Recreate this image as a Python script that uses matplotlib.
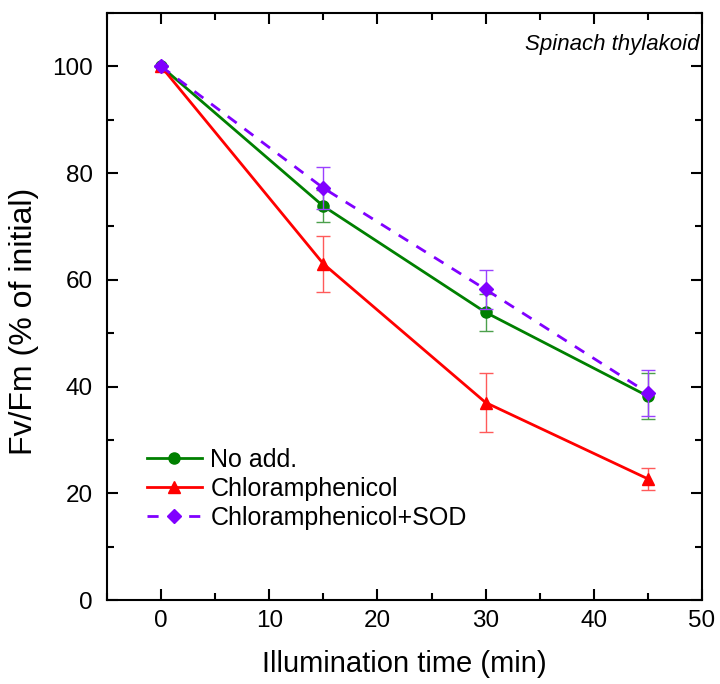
import matplotlib
matplotlib.use("Agg")
from matplotlib import pyplot as plt
from matplotlib.ticker import MultipleLocator

plt.rcParams['font.family'] = ['Liberation Sans', 'DejaVu Sans']

# data
t = [0, 15, 30, 45]
no_add = [100, 73.8, 53.9, 38.2]
no_add_err = [0, 3.0, 3.4, 4.3]
chl = [100, 63.0, 37.0, 22.7]
chl_err = [0, 5.2, 5.6, 2.1]
chl_sod = [100, 77.2, 58.2, 38.8]
chl_sod_err = [0, 4.0, 3.7, 4.3]
labels = ["No add.", "Chloramphenicol", "Chloramphenicol+SOD"]

fig = plt.figure(figsize=(7.2, 6.84), dpi=100)
ax = fig.add_axes([0.1486, 0.1228, 0.8264, 0.8582])

green = "#008000"
red = "#ff0000"
purple = "#8000ff"

ax.errorbar(t, no_add, yerr=no_add_err, color=green, marker="o", markersize=8,
            linewidth=2, capsize=5, elinewidth=1, ecolor="#4ca04c", label=labels[0], zorder=3)
ax.errorbar(t, chl, yerr=chl_err, color=red, marker="^", markersize=9,
            linewidth=2, capsize=5, elinewidth=1, ecolor="#ff5a5a", label=labels[1], zorder=3)
ax.errorbar(t, chl_sod, yerr=chl_sod_err, color=purple, marker="D", markersize=7,
            linewidth=2, linestyle=(0, (4, 3.5)), capsize=5, elinewidth=1, ecolor="#9a40ff",
            label=labels[2], zorder=4)

ax.set_xlim(-5, 50)
ax.set_ylim(0, 110)
ax.xaxis.set_major_locator(MultipleLocator(10))
ax.xaxis.set_minor_locator(MultipleLocator(5))
ax.yaxis.set_major_locator(MultipleLocator(20))
ax.yaxis.set_minor_locator(MultipleLocator(10))
ax.tick_params(which="both", direction="in", top=True, right=True, width=1.5, labelsize=17.5)
ax.tick_params(axis="x", pad=7)
ax.tick_params(axis="y", pad=10)
ax.tick_params(which="major", length=8)
ax.tick_params(which="minor", length=5)
for s in ax.spines.values():
    s.set_linewidth(1.5)

ax.set_xlabel("Illumination time (min)", fontsize=21, labelpad=13)
ax.set_ylabel("Fv/Fm (% of initial)", fontsize=23, labelpad=10)
ax.yaxis.set_label_coords(-0.115, 0.475)
ax.text(0.995, 0.965, "Spinach thylakoid", transform=ax.transAxes, ha="right", va="top",
        fontsize=16, style="italic")

# legend entries without error bar glyphs
handles, lbls = ax.get_legend_handles_labels()
handles = [h[0] for h in handles]
ax.legend(handles, lbls, loc="lower left", bbox_to_anchor=(0.029, 0.081), frameon=False,
          fontsize=18, handlelength=2.2, handletextpad=0.35, labelspacing=0.2)

fig.savefig("out.png", dpi=100)
